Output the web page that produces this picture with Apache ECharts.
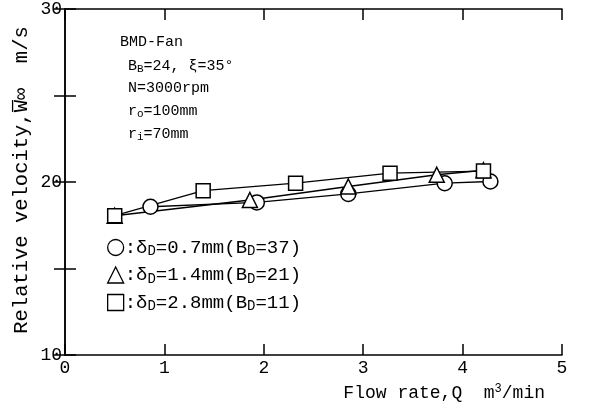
<!DOCTYPE html>
<html><head><meta charset="utf-8">
<script src="https://cdn.jsdelivr.net/npm/echarts@6/dist/echarts.min.js"></script>
<style>html,body{margin:0;padding:0;background:#fff}#c{width:604px;height:409px}</style>
</head><body><div id="c"></div>
<script>
const circleX = [0.86, 1.93, 2.85, 3.82, 4.28];
const circleY = [18.57, 18.82, 19.31, 19.93, 20.03];
const triX = [0.50, 1.86, 2.85, 3.74, 4.21];
const triY = [18.05, 18.96, 19.74, 20.42, 20.68];
const sqX = [0.50, 1.39, 2.32, 3.27, 4.21];
const sqY = [18.05, 19.50, 19.93, 20.51, 20.63];
const yLabelValues = [10, 20, 30];
const legendTexts = {
  d07: ':δ{sub|D}=0.7mm(B{sub|D}=37)',
  d14: ':δ{sub|D}=1.4mm(B{sub|D}=21)',
  d28: ':δ{sub|D}=2.8mm(B{sub|D}=11)'
};
const FONT = 'Liberation Mono';
const zip = (xs, ys) => xs.map((x, i) => [x, ys[i]]);

const chart = echarts.init(document.getElementById('c'), null, {renderer: 'canvas'});
const lineSeries = (name, sym, xs, ys, size) => ({
  name, type: 'line', data: zip(xs, ys), symbol: sym, symbolSize: size,
  showAllSymbol: true,
  lineStyle: {color: '#000', width: 1.3},
  itemStyle: {color: '#fff', borderColor: '#000', borderWidth: 1.5},
  emphasis: {disabled: true}, animation: false, z: 3
});
const axisCommon = {
  axisLine: {lineStyle: {color: '#000', width: 1.5}},
  axisTick: {inside: true, length: 11, lineStyle: {color: '#000', width: 1.5}},
  splitLine: {show: false}
};
const subRich = {
  sub: {fontFamily: FONT, fontSize: 11, color: '#000', padding: [7, 0, 0, 0], verticalAlign: 'bottom'}
};
function txt(x, y, text) {
  return {type: 'text', x, y, style: {text, fontFamily: FONT, fontSize: 15, fill: '#000', textVerticalAlign: 'middle', rich: subRich}};
}
chart.setOption({
  animation: false,
  backgroundColor: '#fff',
  grid: {left: 65, right: 42, top: 8, bottom: 54},
  xAxis: [
    Object.assign({type: 'value', min: 0, max: 5, interval: 1, position: 'bottom',
      axisLabel: {color: '#000', fontFamily: FONT, fontSize: 18, margin: 4}}, axisCommon),
    Object.assign({type: 'value', min: 0, max: 5, interval: 1, position: 'top',
      axisLabel: {show: false}}, axisCommon)
  ],
  yAxis: [
    Object.assign({type: 'value', min: 10, max: 30, interval: 5, position: 'left',
      axisLabel: {color: '#000', fontFamily: FONT, fontSize: 18, margin: 3,
        formatter: v => yLabelValues.includes(v) ? String(v) : ''}}, axisCommon),
    Object.assign({type: 'value', min: 10, max: 30, interval: 5, position: 'right',
      axisLabel: {show: false}}, axisCommon)
  ],
  legend: {
    orient: 'vertical', left: 102, top: 233, itemGap: 7, itemWidth: 16, itemHeight: 16,
    selectedMode: false,
    data: [
      {name: 'd07', icon: 'circle'},
      {name: 'd14', icon: 'triangle'},
      {name: 'd28', icon: 'rect'}
    ],
    itemStyle: {color: '#fff', borderColor: '#000', borderWidth: 1.3},
    lineStyle: {opacity: 0},
    formatter: n => legendTexts[n],
    textStyle: {fontFamily: FONT, fontSize: 19, color: '#000', padding: [0, 0, 0, -4],
      rich: {sub: {fontFamily: FONT, fontSize: 14, color: '#000', padding: [8, 0, 0, 0], verticalAlign: 'bottom'}}}
  },
  series: [
    lineSeries('d07', 'circle', circleX, circleY, 15),
    lineSeries('d14', 'triangle', triX, triY, 15),
    lineSeries('d28', 'rect', sqX, sqY, 14)
  ],
  graphic: [
    txt(120, 42, 'BMD-Fan'),
    txt(128, 66, 'B{sub|B}=24, ξ=35°'),
    txt(128, 88, 'N=3000rpm'),
    txt(128, 111, 'r{sub|o}=100mm'),
    txt(128, 134, 'r{sub|i}=70mm'),
    {type: 'text', x: 22, y: 180, rotation: Math.PI / 2,
      style: {text: 'Relative velocity,W̅∞  m/s', fontFamily: FONT, fontSize: 20.5, fill: '#000',
        textAlign: 'center', textVerticalAlign: 'middle'}},
    {type: 'text', x: 545, y: 393,
      style: {text: 'Flow rate,Q  m{sup|3}/min', fontFamily: FONT, fontSize: 18, fill: '#000',
        textAlign: 'right', textVerticalAlign: 'middle',
        rich: {sup: {fontFamily: FONT, fontSize: 12, fill: '#000', verticalAlign: 'top', padding: [0, 0, 8, 0]}}}}
  ]
});
</script></body></html>
